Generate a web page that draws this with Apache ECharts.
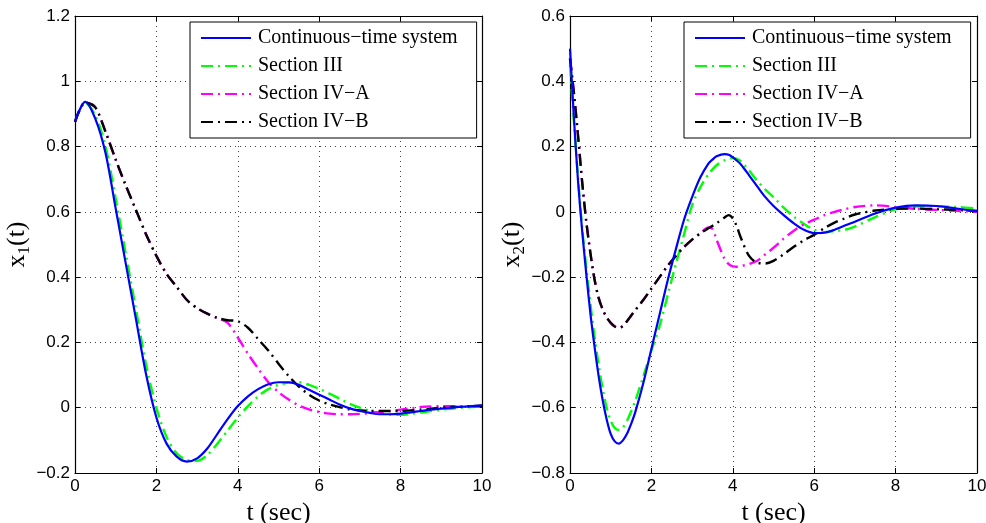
<!DOCTYPE html>
<html>
<head>
<meta charset="utf-8">
<script src="https://cdn.jsdelivr.net/npm/echarts@6/dist/echarts.min.js"></script>
<style>
html,body{margin:0;padding:0;background:#fff;}
#chart{width:986px;height:523px;}
</style>
</head>
<body>
<div id="chart"></div>
<script>
// ---------- data ----------
const seriesNames = ['Continuous\u2212time system', 'Section III', 'Section IV\u2212A', 'Section IV\u2212B'];
const xTicks = [0, 2, 4, 6, 8, 10];

// left panel: x1(t)
const tL = [0,0.25,0.5,0.75,1,1.25,1.5,1.75,2,2.25,2.5,2.75,3,3.25,3.5,3.75,4,4.25,4.5,4.75,5,5.25,5.5,5.75,6,6.25,6.5,6.75,7,7.25,7.5,7.75,8,8.25,8.5,8.75,9,9.25,9.5,9.75,10];
const contL = [0.876,0.937,0.885,0.78,0.61,0.44,0.27,0.10,-0.03,-0.11,-0.15,-0.165,-0.155,-0.125,-0.08,-0.035,0.005,0.035,0.057,0.072,0.078,0.078,0.07,0.055,0.04,0.025,0.01,-0.002,-0.01,-0.016,-0.02,-0.02,-0.018,-0.014,-0.01,-0.006,-0.003,0,0.003,0.005,0.007];
const sec3L = [0.876,0.935,0.895,0.80,0.64,0.47,0.30,0.13,0.0,-0.09,-0.14,-0.16,-0.163,-0.145,-0.11,-0.07,-0.03,0.005,0.035,0.057,0.07,0.077,0.078,0.07,0.058,0.043,0.028,0.012,0.0,-0.01,-0.017,-0.021,-0.022,-0.019,-0.015,-0.01,-0.006,-0.003,0.0,0.002,0.004];
const sec4aL = [0.876,0.935,0.92,0.845,0.76,0.68,0.605,0.53,0.465,0.41,0.37,0.33,0.305,0.288,0.275,0.26,0.215,0.165,0.12,0.078,0.048,0.025,0.007,-0.005,-0.013,-0.018,-0.02,-0.02,-0.019,-0.016,-0.013,-0.01,-0.006,-0.002,0.002,0.004,0.005,0.005,0.004,0.004,0.003];
const sec4bL = [0.876,0.935,0.92,0.845,0.76,0.68,0.605,0.53,0.465,0.41,0.37,0.33,0.305,0.288,0.275,0.268,0.265,0.245,0.21,0.175,0.135,0.097,0.065,0.04,0.022,0.01,0.002,-0.005,-0.008,-0.01,-0.01,-0.01,-0.01,-0.008,-0.006,-0.003,0.0,0.002,0.003,0.005,0.006];

// right panel: x2(t)
const tR = [0,0.1,0.2,0.3,0.4,0.5,0.6,0.7,0.8,0.9,1.0,1.1,1.2,1.3,1.4,1.5,1.6,1.8,2.0,2.2,2.4,2.6,2.8,3.0,3.2,3.4,3.5,3.6,3.8,3.9,4.0,4.1,4.2,4.4,4.6,4.8,5.0,5.25,5.5,5.75,6.0,6.25,6.5,6.75,7.0,7.5,8.0,8.5,9.0,9.5,10];
const contR = [0.50,0.28,0.09,-0.06,-0.19,-0.31,-0.41,-0.50,-0.575,-0.635,-0.68,-0.703,-0.71,-0.70,-0.68,-0.65,-0.615,-0.525,-0.42,-0.315,-0.21,-0.115,-0.025,0.045,0.105,0.148,0.16,0.17,0.177,0.175,0.167,0.157,0.145,0.112,0.078,0.045,0.018,-0.01,-0.035,-0.055,-0.065,-0.064,-0.055,-0.042,-0.03,-0.005,0.013,0.02,0.018,0.01,0.002];
const sec3R = [0.45,0.27,0.10,-0.05,-0.17,-0.28,-0.38,-0.465,-0.54,-0.60,-0.64,-0.662,-0.668,-0.66,-0.64,-0.612,-0.58,-0.505,-0.425,-0.35,-0.255,-0.16,-0.07,0.02,0.075,0.115,0.13,0.143,0.158,0.162,0.165,0.162,0.155,0.127,0.095,0.068,0.045,0.013,-0.015,-0.037,-0.055,-0.062,-0.059,-0.055,-0.045,-0.016,0.008,0.016,0.017,0.015,0.01];
const sec4aR = [0.47,0.36,0.23,0.09,-0.03,-0.125,-0.205,-0.262,-0.298,-0.323,-0.34,-0.351,-0.355,-0.35,-0.335,-0.318,-0.302,-0.27,-0.235,-0.2,-0.165,-0.135,-0.108,-0.085,-0.066,-0.048,-0.052,-0.085,-0.145,-0.16,-0.167,-0.168,-0.166,-0.16,-0.15,-0.13,-0.11,-0.082,-0.058,-0.038,-0.024,-0.01,0.0,0.008,0.015,0.02,0.015,0.009,0.006,0.003,0.0];
const sec4bR = [0.47,0.36,0.23,0.09,-0.03,-0.125,-0.205,-0.262,-0.298,-0.323,-0.34,-0.351,-0.355,-0.35,-0.335,-0.318,-0.302,-0.27,-0.235,-0.2,-0.165,-0.135,-0.108,-0.085,-0.066,-0.05,-0.043,-0.035,-0.017,-0.01,-0.02,-0.045,-0.08,-0.135,-0.156,-0.158,-0.15,-0.13,-0.107,-0.087,-0.07,-0.05,-0.033,-0.02,-0.008,0.004,0.009,0.01,0.008,0.006,0.003];

// ---------- styles ----------
const colors = ['#0000ff', '#00ff00', '#ff00ff', '#000000'];
const dashes = ['solid', [12, 5, 2, 5], [12, 5, 2, 5], [12, 5, 2, 5]];
const sansFont = 'Liberation Sans, Arial, sans-serif';
const serifFont = 'Liberation Serif, Times New Roman, serif';

function pairs(t, v) { return t.map((x, i) => [x, v[i]]); }
function fmt(v) {
  const r = Math.round(v * 10) / 10;
  if (r === 0) return '0';
  return (r < 0 ? '\u2212' : '') + String(Math.abs(r));
}

const grids = [
  { left: 75, top: 16, width: 407, height: 457, containLabel: false, outerBoundsMode: 'none' },
  { left: 570, top: 16, width: 407, height: 457, containLabel: false, outerBoundsMode: 'none' }
];
const yRanges = [[-0.2, 1.2], [-0.8, 0.6]];
const yNames = ['{a|x}{s|1}{a|(t)}', '{a|x}{s|2}{a|(t)}'];

const tickStyle = { show: true, inside: true, length: 5, lineStyle: { color: '#000', width: 1 } };
const lineStyleAxis = { show: true, onZero: false, lineStyle: { color: '#000', width: 1.2 } };
const gridLine = { show: true, lineStyle: { color: '#444', width: 1, type: [1, 4] } };

const xAxis = [], yAxis = [];
[0, 1].forEach(g => {
  xAxis.push({
    type: 'value', gridIndex: g, min: 0, max: 10, interval: 2, position: 'bottom',
    axisLine: lineStyleAxis, axisTick: tickStyle,
    axisLabel: { color: '#000', fontSize: 17, fontFamily: sansFont, margin: 5, formatter: fmt },
    splitLine: gridLine,
    name: 't (sec)', nameLocation: 'middle', nameGap: 27,
    nameTextStyle: { color: '#000', fontSize: 26, fontFamily: serifFont }
  });
  xAxis.push({
    type: 'value', gridIndex: g, min: 0, max: 10, interval: 2, position: 'top',
    axisLine: lineStyleAxis, axisTick: tickStyle, axisLabel: { show: false }, splitLine: { show: false }
  });
  yAxis.push({
    type: 'value', gridIndex: g, min: yRanges[g][0], max: yRanges[g][1], interval: 0.2, position: 'left',
    axisLine: lineStyleAxis, axisTick: tickStyle,
    axisLabel: { color: '#000', fontSize: 17, fontFamily: sansFont, margin: 5, formatter: fmt },
    splitLine: gridLine,
    name: yNames[g], nameLocation: 'middle', nameGap: g === 0 ? 35 : 38, nameRotate: 90,
    nameTextStyle: {
      color: '#000', fontFamily: serifFont,
      rich: {
        a: { fontSize: 26, fontFamily: serifFont, color: '#000' },
        s: { fontSize: 17, fontFamily: serifFont, color: '#000', padding: [14, 0, 0, 0] }
      }
    }
  });
  yAxis.push({
    type: 'value', gridIndex: g, min: yRanges[g][0], max: yRanges[g][1], interval: 0.2, position: 'right',
    axisLine: lineStyleAxis, axisTick: tickStyle, axisLabel: { show: false }, splitLine: { show: false }
  });
});

const leftData = [contL, sec3L, sec4aL, sec4bL];
const rightData = [contR, sec3R, sec4aR, sec4bR];
const series = [];
[[tL, leftData, 0], [tR, rightData, 1]].forEach(([t, arrs, g]) => {
  arrs.forEach((vals, i) => {
    series.push({
      type: 'line', name: seriesNames[i], xAxisIndex: g * 2, yAxisIndex: g * 2,
      data: pairs(t, vals), symbol: 'none', showSymbol: false,
      smooth: 0.3, clip: true, animation: false,
      z: i === 0 ? 3 : 2,
      lineStyle: { color: colors[i], width: i === 0 ? 2.2 : 2.4, type: dashes[i] },
      itemStyle: { color: colors[i] }
    });
  });
});

const legendCommon = {
  orient: 'vertical', top: 22, itemWidth: 50, itemHeight: 14, itemGap: 8,
  backgroundColor: '#fff', borderColor: '#000', borderWidth: 1, borderRadius: 0,
  padding: [6, 19, 6, 10], selectedMode: false,
  itemStyle: { opacity: 0 },
  textStyle: { color: '#000', fontSize: 20, fontFamily: serifFont, padding: [0, 0, 0, 2] },
  data: seriesNames, z: 10
};

const chart = echarts.init(document.getElementById('chart'));
chart.setOption({
  backgroundColor: '#fff',
  animation: false,
  grid: grids,
  xAxis: xAxis,
  yAxis: yAxis,
  legend: [Object.assign({ left: 190 }, legendCommon), Object.assign({ left: 684 }, legendCommon)],
  series: series
});
</script>
</body>
</html>
